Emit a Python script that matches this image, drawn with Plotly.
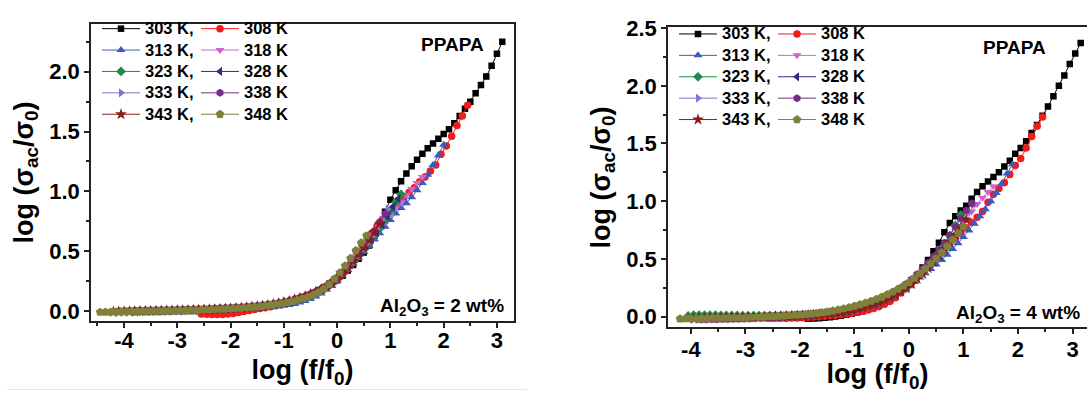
import plotly.graph_objects as go

# ---------------- data ----------------
# offsets of the measured log-frequency points from the first point of a series
FREQ_STEPS = [0.0, 0.1, 0.2, 0.3, 0.4, 0.5, 0.6, 0.7, 0.8, 0.9, 1.0, 1.1, 1.2, 1.3, 1.4, 1.5,
              1.6, 1.7, 1.8, 1.9, 2.0, 2.1, 2.2, 2.3, 2.4, 2.5, 2.6, 2.7, 2.8, 2.9, 3.0, 3.1,
              3.2, 3.3, 3.4, 3.5, 3.6, 3.7, 3.8, 3.9, 4.0, 4.1, 4.2, 4.3, 4.4, 4.5, 4.6, 4.7,
              4.8, 4.9, 5.0, 5.1, 5.2]

LEGEND_TEXT = ["303 K,", "308 K", "313 K,", "318 K", "323 K,", "328 K",
               "333 K,", "338 K", "343 K,", "348 K"]

# ---- Al2O3 = 2 wt% ----
W2_X0 = [-1.9, -2.55, -3.0, -3.4, -3.8, -3.85, -4.05, -4.1, -4.2, -4.45]
W2_Y303 = [0.020, 0.023, 0.026, 0.030, 0.034, 0.039, 0.045, 0.052, 0.060, 0.069,
           0.079, 0.090, 0.103, 0.117, 0.133, 0.151, 0.171, 0.194, 0.222, 0.256,
           0.295, 0.338, 0.385, 0.436, 0.490, 0.548, 0.630, 0.720, 0.830, 0.930,
           1.010, 1.085, 1.150, 1.210, 1.265, 1.315, 1.360, 1.400, 1.440, 1.480,
           1.520, 1.570, 1.630, 1.690, 1.750, 1.820, 1.890, 1.960, 2.050, 2.150,
           2.250]
W2_Y308 = [-0.025, -0.028, -0.030, -0.030, -0.029, -0.026, -0.020, -0.012, -0.004, 0.004,
           0.012, 0.020, 0.028, 0.036, 0.045, 0.055, 0.066, 0.078, 0.091, 0.106,
           0.122, 0.140, 0.161, 0.185, 0.213, 0.246, 0.285, 0.330, 0.380, 0.435,
           0.495, 0.565, 0.650, 0.710, 0.765, 0.815, 0.860, 0.905, 0.950, 0.990,
           1.030, 1.080, 1.120, 1.170, 1.220, 1.310, 1.380, 1.460, 1.550, 1.630,
           1.720]
W2_Y313 = [0.000, 0.001, 0.002, 0.003, 0.004, 0.005, 0.006, 0.007, 0.008, 0.009,
           0.010, 0.012, 0.014, 0.016, 0.018, 0.021, 0.024, 0.028, 0.032, 0.037,
           0.043, 0.050, 0.059, 0.070, 0.084, 0.101, 0.122, 0.147, 0.177, 0.212,
           0.252, 0.296, 0.343, 0.392, 0.442, 0.493, 0.545, 0.597, 0.650, 0.705,
           0.760, 0.815, 0.860, 0.900, 0.950, 1.010, 1.070, 1.140, 1.220, 1.300,
           1.390]
W2_Y318 = [0.007, 0.008, 0.009, 0.010, 0.011, 0.012, 0.013, 0.014, 0.016, 0.017,
           0.019, 0.021, 0.023, 0.025, 0.027, 0.030, 0.033, 0.036, 0.040, 0.044,
           0.049, 0.055, 0.062, 0.070, 0.079, 0.089, 0.101, 0.114, 0.129, 0.146,
           0.166, 0.188, 0.213, 0.244, 0.280, 0.320, 0.360, 0.410, 0.460, 0.510,
           0.560, 0.620, 0.680, 0.740, 0.800, 0.860, 0.910, 0.970, 1.020, 1.070,
           1.120]
W2_Y323 = [-0.003, -0.002, -0.001, 0.000, 0.001, 0.002, 0.003, 0.004, 0.005, 0.006,
           0.007, 0.008, 0.010, 0.011, 0.013, 0.015, 0.017, 0.019, 0.021, 0.024,
           0.027, 0.030, 0.034, 0.038, 0.043, 0.049, 0.056, 0.064, 0.073, 0.083,
           0.095, 0.108, 0.123, 0.140, 0.160, 0.182, 0.207, 0.240, 0.275, 0.318,
           0.364, 0.412, 0.462, 0.515, 0.570, 0.628, 0.690, 0.760, 0.840, 0.910,
           0.975]
W2_Y328 = [-0.004, -0.003, -0.002, -0.001, 0.000, 0.001, 0.002, 0.003, 0.004, 0.005,
           0.006, 0.007, 0.009, 0.010, 0.012, 0.014, 0.016, 0.018, 0.020, 0.022,
           0.025, 0.028, 0.032, 0.036, 0.040, 0.046, 0.052, 0.060, 0.068, 0.078,
           0.089, 0.101, 0.115, 0.131, 0.150, 0.171, 0.194, 0.223, 0.258, 0.298,
           0.342, 0.388, 0.437, 0.488, 0.542, 0.598, 0.657, 0.720, 0.790, 0.870,
           0.940]
W2_Y333 = [-0.002, -0.001, 0.000, 0.001, 0.002, 0.003, 0.004, 0.005, 0.006, 0.007,
           0.008, 0.009, 0.010, 0.011, 0.012, 0.014, 0.015, 0.017, 0.019, 0.021,
           0.023, 0.025, 0.028, 0.031, 0.034, 0.038, 0.042, 0.047, 0.053, 0.060,
           0.068, 0.077, 0.087, 0.099, 0.112, 0.127, 0.145, 0.165, 0.188, 0.214,
           0.255, 0.300, 0.348, 0.398, 0.450, 0.505, 0.562, 0.622, 0.685, 0.760,
           0.850]
W2_Y338 = [-0.003, -0.002, -0.001, 0.000, 0.001, 0.002, 0.003, 0.004, 0.005, 0.006,
           0.007, 0.008, 0.009, 0.010, 0.011, 0.013, 0.014, 0.016, 0.018, 0.020,
           0.022, 0.024, 0.027, 0.030, 0.033, 0.037, 0.041, 0.046, 0.052, 0.059,
           0.067, 0.076, 0.086, 0.098, 0.111, 0.126, 0.143, 0.163, 0.185, 0.210,
           0.242, 0.280, 0.325, 0.375, 0.428, 0.484, 0.542, 0.603, 0.670, 0.745,
           0.815]
W2_Y343 = [-0.007, -0.006, -0.005, -0.004, -0.003, -0.002, -0.001, 0.000, 0.001, 0.002,
           0.003, 0.004, 0.005, 0.006, 0.007, 0.008, 0.010, 0.011, 0.013, 0.015,
           0.017, 0.019, 0.021, 0.024, 0.027, 0.030, 0.034, 0.038, 0.043, 0.049,
           0.056, 0.064, 0.073, 0.083, 0.095, 0.108, 0.123, 0.140, 0.160, 0.182,
           0.207, 0.240, 0.275, 0.318, 0.366, 0.418, 0.472, 0.530, 0.592, 0.658,
           0.730]
W2_Y348 = [-0.010, -0.009, -0.008, -0.007, -0.006, -0.005, -0.004, -0.003, -0.002, -0.001,
           0.000, 0.001, 0.002, 0.003, 0.004, 0.005, 0.006, 0.007, 0.008, 0.010,
           0.011, 0.013, 0.015, 0.017, 0.019, 0.022, 0.025, 0.028, 0.031, 0.035,
           0.039, 0.044, 0.050, 0.057, 0.064, 0.072, 0.081, 0.091, 0.103, 0.117,
           0.134, 0.156, 0.185, 0.222, 0.268, 0.320, 0.378, 0.440, 0.505, 0.570,
           0.630]

# ---- Al2O3 = 4 wt% ----
W4_X0 = [-1.85, -2.55, -3.1, -3.45, -4.05, -4.0, -3.8, -3.85, -3.95, -4.2]
W4_Y303 = [-0.020, -0.018, -0.015, -0.011, -0.006, 0.000, 0.007, 0.015, 0.024, 0.034,
           0.046, 0.060, 0.076, 0.095, 0.117, 0.143, 0.173, 0.208, 0.250, 0.300,
           0.360, 0.425, 0.490, 0.565, 0.640, 0.730, 0.810, 0.870, 0.920, 0.960,
           1.020, 1.080, 1.130, 1.170, 1.210, 1.250, 1.300, 1.350, 1.410, 1.460,
           1.520, 1.590, 1.660, 1.740, 1.820, 1.910, 2.000, 2.090, 2.190, 2.280,
           2.370]
W4_Y308 = [-0.015, -0.016, -0.016, -0.015, -0.014, -0.012, -0.010, -0.008, -0.005, -0.002,
           0.002, 0.006, 0.011, 0.016, 0.022, 0.029, 0.037, 0.046, 0.057, 0.070,
           0.086, 0.106, 0.131, 0.163, 0.203, 0.250, 0.300, 0.352, 0.405, 0.455,
           0.500, 0.545, 0.590, 0.635, 0.680, 0.725, 0.770, 0.815, 0.860, 0.910,
           0.990, 1.060, 1.110, 1.160, 1.230, 1.310, 1.370, 1.460, 1.560, 1.650,
           1.730]
W4_Y313 = [-0.012, -0.011, -0.010, -0.009, -0.008, -0.007, -0.006, -0.005, -0.004, -0.003,
           -0.002, 0.000, 0.002, 0.005, 0.008, 0.012, 0.016, 0.021, 0.027, 0.034,
           0.042, 0.051, 0.062, 0.075, 0.089, 0.105, 0.123, 0.144, 0.168, 0.195,
           0.226, 0.262, 0.300, 0.338, 0.375, 0.412, 0.450, 0.490, 0.535, 0.585,
           0.635, 0.690, 0.745, 0.805, 0.870, 0.930, 1.000, 1.070, 1.150, 1.240,
           1.320]
W4_Y318 = [-0.010, -0.009, -0.008, -0.007, -0.006, -0.005, -0.004, -0.003, -0.002, -0.001,
           0.000, 0.002, 0.004, 0.006, 0.008, 0.011, 0.014, 0.018, 0.022, 0.027,
           0.033, 0.040, 0.048, 0.058, 0.069, 0.082, 0.097, 0.113, 0.131, 0.151,
           0.173, 0.198, 0.225, 0.255, 0.287, 0.322, 0.360, 0.400, 0.442, 0.485,
           0.530, 0.578, 0.630, 0.690, 0.760, 0.840, 0.910, 0.975, 1.030, 1.080,
           1.130]
W4_Y323 = [0.005, 0.012, 0.012, 0.012, 0.011, 0.011, 0.010, 0.010, 0.009, 0.009,
           0.008, 0.008, 0.008, 0.008, 0.008, 0.008, 0.009, 0.010, 0.011, 0.012,
           0.014, 0.016, 0.018, 0.021, 0.024, 0.028, 0.033, 0.039, 0.046, 0.054,
           0.063, 0.074, 0.086, 0.100, 0.116, 0.134, 0.154, 0.177, 0.203, 0.232,
           0.265, 0.302, 0.345, 0.392, 0.442, 0.495, 0.552, 0.620, 0.700, 0.790,
           0.880]
W4_Y328 = [-0.018, -0.017, -0.016, -0.015, -0.014, -0.013, -0.012, -0.011, -0.010, -0.009,
           -0.008, -0.007, -0.006, -0.005, -0.004, -0.003, -0.002, 0.000, 0.002, 0.004,
           0.006, 0.009, 0.012, 0.016, 0.020, 0.025, 0.031, 0.038, 0.046, 0.055,
           0.066, 0.078, 0.092, 0.107, 0.124, 0.143, 0.164, 0.188, 0.215, 0.246,
           0.280, 0.320, 0.364, 0.412, 0.463, 0.517, 0.574, 0.634, 0.697, 0.762,
           0.830]
W4_Y333 = [-0.024, -0.024, -0.023, -0.023, -0.022, -0.021, -0.020, -0.019, -0.018, -0.016,
           -0.014, -0.012, -0.010, -0.008, -0.006, -0.003, 0.000, 0.003, 0.006, 0.009,
           0.013, 0.017, 0.022, 0.027, 0.033, 0.040, 0.048, 0.057, 0.067, 0.079,
           0.092, 0.107, 0.124, 0.143, 0.164, 0.188, 0.215, 0.246, 0.280, 0.318,
           0.360, 0.405, 0.453, 0.505, 0.560, 0.620, 0.685, 0.755, 0.830, 0.905,
           0.975]
W4_Y338 = [-0.022, -0.022, -0.021, -0.021, -0.020, -0.019, -0.018, -0.017, -0.016, -0.015,
           -0.013, -0.011, -0.009, -0.007, -0.005, -0.003, 0.000, 0.003, 0.006, 0.009,
           0.013, 0.017, 0.022, 0.027, 0.033, 0.040, 0.048, 0.057, 0.067, 0.079,
           0.092, 0.107, 0.124, 0.143, 0.165, 0.189, 0.216, 0.247, 0.282, 0.322,
           0.366, 0.414, 0.465, 0.520, 0.578, 0.640, 0.705, 0.775, 0.850, 0.920,
           0.980]
W4_Y343 = [-0.018, -0.017, -0.016, -0.015, -0.014, -0.013, -0.012, -0.011, -0.010, -0.009,
           -0.008, -0.007, -0.006, -0.005, -0.004, -0.003, -0.002, 0.000, 0.002, 0.004,
           0.006, 0.009, 0.012, 0.016, 0.020, 0.025, 0.031, 0.038, 0.046, 0.055,
           0.066, 0.078, 0.092, 0.107, 0.124, 0.143, 0.164, 0.188, 0.215, 0.246,
           0.282, 0.324, 0.370, 0.420, 0.473, 0.528, 0.585, 0.644, 0.705, 0.770,
           0.840]
W4_Y348 = [-0.020, -0.019, -0.018, -0.017, -0.016, -0.015, -0.014, -0.013, -0.012, -0.011,
           -0.010, -0.009, -0.008, -0.006, -0.004, -0.002, 0.000, 0.002, 0.004, 0.006,
           0.009, 0.012, 0.015, 0.019, 0.023, 0.028, 0.034, 0.041, 0.049, 0.058,
           0.068, 0.079, 0.091, 0.104, 0.118, 0.133, 0.150, 0.169, 0.190, 0.213,
           0.238, 0.265, 0.295, 0.332, 0.372, 0.414, 0.458, 0.503, 0.555, 0.610,
           0.665, 0.722, 0.780]

X_TICKS = [-4, -3, -2, -1, 0, 1, 2, 3]
X_TICK_TEXT = ["-4", "-3", "-2", "-1", "0", "1", "2", "3"]
X_MINOR = [-4.5, -3.5, -2.5, -1.5, -0.5, 0.5, 1.5, 2.5]
Y2_TICKS = [0.0, 0.5, 1.0, 1.5, 2.0]
Y4_TICKS = [0.0, 0.5, 1.0, 1.5, 2.0, 2.5]
Y_MINOR = [0.25, 0.75, 1.25, 1.75, 2.25]

# ---------------- style ----------------
W, H = 1087, 393
FONT = "Liberation Sans, Arial, sans-serif"
COLORS = ["#000000", "#F21B1B", "#3A5CC2", "#CC66CC", "#1E8C45",
          "#2C2C85", "#8C6FD0", "#7A2A88", "#8C1C1C", "#80803A"]
SYMBOLS = ["square", "circle", "triangle-up", "triangle-down", "diamond",
           "triangle-left", "triangle-right", "hexagon", "star", "pentagon"]
SIZES = [6.5, 7.5, 8, 8, 7.5, 8, 8, 8, 9, 9]


def px_x(p):
    return p / W


def px_y(p):
    return 1 - p / H


fig = go.Figure()

panels = [
    (W2_X0, [W2_Y303, W2_Y308, W2_Y313, W2_Y318, W2_Y323, W2_Y328, W2_Y333, W2_Y338, W2_Y343, W2_Y348],
     "x", "y", ("legend", "legend2")),
    (W4_X0, [W4_Y303, W4_Y308, W4_Y313, W4_Y318, W4_Y323, W4_Y328, W4_Y333, W4_Y338, W4_Y343, W4_Y348],
     "x2", "y2", ("legend3", "legend4")),
]

for x0s, ys, xa, ya, legs in panels:
    for i, (x0, yv) in enumerate(zip(x0s, ys)):
        xv = [round(x0 + s, 3) for s in FREQ_STEPS[:len(yv)]]
        fig.add_trace(go.Scatter(
            x=xv, y=yv, xaxis=xa, yaxis=ya,
            mode="lines+markers",
            name='<span style="font-size:16.5px">' + LEGEND_TEXT[i] + "</span>",
            legend=legs[i % 2],
            line=dict(color=COLORS[i], width=1),
            marker=dict(symbol=SYMBOLS[i], size=SIZES[i], color=COLORS[i], line=dict(width=0)),
        ))

tickfont = dict(family=FONT, size=22, color="black", weight="bold")
titlefont = dict(family=FONT, size=27, color="black", weight="bold")
minor_common = dict(ticks="outside", ticklen=3, tickwidth=1.5, tickcolor="#222")


def xaxis_cfg(domain, rng, lab_shift, standoff):
    return dict(domain=domain, range=rng, showline=True, linewidth=1.5, linecolor="#222",
                mirror=True, ticks="outside", ticklen=5, tickwidth=1.5, tickcolor="#222",
                tickmode="array", tickvals=X_TICKS, ticktext=X_TICK_TEXT,
                minor=dict(tickvals=X_MINOR, **minor_common),
                ticklabelstandoff=lab_shift,
                showgrid=False, zeroline=False, tickfont=tickfont,
                title=dict(text="log (f/f<sub>0</sub>)", font=titlefont, standoff=standoff))


def yaxis_cfg(domain, rng, ticks, mirror):
    return dict(domain=domain, range=rng, showline=True, linewidth=1.5, linecolor="#222",
                mirror=mirror, ticks="outside", ticklen=5, tickwidth=1.5, tickcolor="#222",
                tickmode="array", tickvals=ticks, ticktext=["%.1f" % t for t in ticks],
                minor=dict(tickvals=Y_MINOR, **minor_common),
                showgrid=False, zeroline=False, tickfont=tickfont,
                title=dict(text="log (σ<sub>ac</sub>/σ<sub>0</sub>)", font=titlefont, standoff=8))


legfont = dict(family=FONT, size=14.15, color="black", weight="bold")


def leg(xp, yp):
    return dict(x=px_x(xp), y=px_y(yp), xanchor="left", yanchor="top", orientation="v",
                font=legfont, bgcolor="rgba(0,0,0,0)", borderwidth=0, tracegroupgap=0,
                itemwidth=38, itemsizing="trace")


fig.update_layout(
    width=W, height=H, margin=dict(l=0, r=0, t=0, b=0),
    paper_bgcolor="white", plot_bgcolor="white",
    showlegend=True,
    xaxis=xaxis_cfg([px_x(91), px_x(514)], [-4.62, 3.32], -6, 8),
    yaxis=yaxis_cfg([px_y(320.7), px_y(12)], [-0.086, 2.403], Y2_TICKS, True),
    xaxis2=dict(xaxis_cfg([px_x(668), 1.0], [-4.42, 3.266], -4, 9), anchor="y2"),
    yaxis2=dict(yaxis_cfg([px_y(327), px_y(16)], [-0.094, 2.506], Y4_TICKS, False), anchor="x2"),
    legend=leg(97, 1.0),
    legend2=leg(196, 1.0),
    legend3=leg(674, 6.5),
    legend4=leg(773, 6.5),
    annotations=[
        dict(text="<b>PPAPA</b>", x=px_x(452), y=px_y(34), xref="paper", yref="paper",
             showarrow=False, xanchor="center", yanchor="middle",
             font=dict(family=FONT, size=19, color="black")),
        dict(text="<b>PPAPA</b>", x=px_x(1014), y=px_y(37), xref="paper", yref="paper",
             showarrow=False, xanchor="center", yanchor="middle",
             font=dict(family=FONT, size=19, color="black")),
        dict(text="<b>Al<sub>2</sub>O<sub>3</sub> = 2 wt%</b>", x=px_x(506), y=px_y(306),
             xref="paper", yref="paper", showarrow=False, xanchor="right", yanchor="middle",
             font=dict(family=FONT, size=19, color="black")),
        dict(text="<b>Al<sub>2</sub>O<sub>3</sub> = 4 wt%</b>", x=px_x(1082), y=px_y(313),
             xref="paper", yref="paper", showarrow=False, xanchor="right", yanchor="middle",
             font=dict(family=FONT, size=19, color="black")),
    ],
    shapes=[dict(type="line", xref="paper", yref="paper", x0=px_x(7), x1=px_x(527),
                 y0=px_y(391.5), y1=px_y(391.5), line=dict(color="#e6e6e6", width=1))],
)

fig.write_html("out.html")
